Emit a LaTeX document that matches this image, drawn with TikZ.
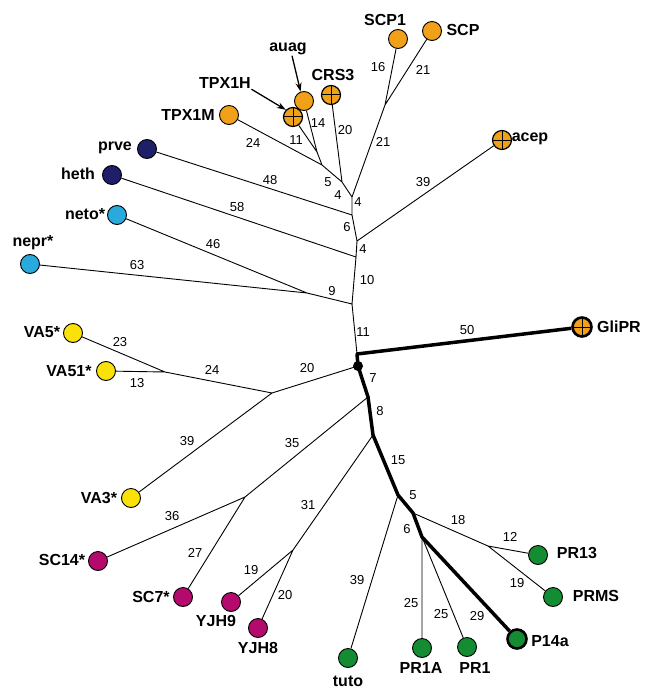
\documentclass[tikz,border=0pt]{standalone}
\usepackage{fontspec}
\setmainfont{Liberation Sans}
\usetikzlibrary{arrows.meta}

\definecolor{orng}{RGB}{240,160,25}
\definecolor{navy}{RGB}{30,30,105}
\definecolor{cyn}{RGB}{40,170,220}
\definecolor{yel}{RGB}{250,225,10}
\definecolor{mag}{RGB}{180,10,110}
\definecolor{grn}{RGB}{20,140,50}

\tikzset{
  leaf/.style={circle, draw, line width=0.9pt, minimum size=19pt, inner sep=0pt},
  xleaf/.style={leaf, fill=orng, line width=1.2pt,
    path picture={\draw[line width=1pt] (path picture bounding box.north) -- (path picture bounding box.south)
      (path picture bounding box.west) -- (path picture bounding box.east);}},
  tag/.style={font=\fontsize{16}{18}\selectfont\bfseries, inner sep=0.5pt},
  num/.style={font=\fontsize{13}{15}\selectfont, inner sep=0pt},
  br/.style={line width=0.9pt},
  trunk/.style={line width=3.5pt, line join=round},
}

\begin{document}
\begin{tikzpicture}[x=1pt, y=-1pt]
    \useasboundingbox (0,0) rectangle (645,690);

    % Leaves
    \foreach \n/\c/\x/\y in {scp1/orng/398/39, scp/orng/432/31, auag/orng/304/101, tpx1m/orng/229/115,
        prve/navy/147/149, heth/navy/112/175, neto/cyn/117/215, nepr/cyn/30/264,
        va5/yel/73/333, va51/yel/106/371, va3/yel/131/498,
        sc14/mag/98/561, sc7/mag/183/597, yjh9/mag/231/602, yjh8/mag/258/628,
        tuto/grn/348/658, pr1a/grn/422/648, pr1/grn/467/647, prms/grn/553/597, pr13/grn/538/555}
        \node[leaf, fill=\c] (\n) at (\x,\y) {};
    \foreach \n/\x/\y in {tpx1h/293/117, crs3/331/95, acep/502/140}
        \node[xleaf] (\n) at (\x,\y) {};
    \node[xleaf, line width=2.6pt] (glipr) at (582,327) {};
    \node[leaf, fill=grn, line width=2.6pt] (p14a) at (517,639) {};

    % Leaf names
    \foreach \n/\x/\y/\t in {scp1/385/20/SCP1, scp/463/30/SCP, auag/288/49/auag, tpx1h/225/83/TPX1H,
        crs3/333/75/CRS3, tpx1m/188/115/TPX1M, acep/530/139/acep, prve/115/148/prve,
        heth/78/174/heth, neto/85/214/neto*, nepr/33/243/nepr*, va5/42/332/VA5*,
        va51/69/371/VA51*, va3/99/498/VA3*, sc14/62/560/SC14*, sc7/151/597/SC7*,
        yjh9/216/621/YJH9, yjh8/258/648/YJH8, tuto/348/681/tuto, pr1a/421/668/PR1A,
        pr1/475/668/PR1, p14a/550/641/P14a, prms/596/596/PRMS, pr13/577/553/PR13, glipr/619/327/GliPR}
        \node[tag] (\n-t) at (\x,\y) {\t};

    % Inner nodes
    \foreach \n/\x/\y in {jA/317/152, jB/322/165, jC/342/182, jD/352/197, jS/385/105,
        jE/352/215, jF/357/241, jG/356/257, jH/352/304, jN/307/293, gj/357/354,
        jL/272/393, jV/165/372, jK/368/397, jSC/245/497, jM/373/435, jY/293/550,
        jT/398/495, jP/413/513, jR/488/546, jQ/422/537}
        \coordinate (\n) at (\x,\y);
    \coordinate (root) at (358,366);

    % Branches
    \draw[br] (tpx1h) -- (jA) (auag) -- (jA) (jA) -- (jB) (tpx1m) -- (jB) -- (jC) (crs3) -- (jC) -- (jD)
        (scp1) -- (jS) (scp) -- (jS) -- (jD) -- (jE) (prve) -- (jE) -- (jF) (acep) -- (jF) -- (jG)
        (heth) -- (jG) -- (jH) (nepr) -- (jN) (neto) -- (jN) -- (jH) -- (gj);
    \draw[br] (root) -- (jL) -- (jV) (va5) -- (jV) (va51) -- (jV) (jL) -- (va3)
        (jK) -- (jSC) -- (sc14) (jSC) -- (sc7) (jM) -- (jY) -- (yjh9) (jY) -- (yjh8)
        (jT) -- (tuto) (jP) -- (jR) -- (pr13) (jR) -- (prms) (jQ) -- (pr1a) (jQ) -- (pr1);
    \draw[trunk] (glipr) -- (gj) -- (root) -- (jK) -- (jM) -- (jT) -- (jP) -- (jQ) -- (p14a);
    \fill (root) circle (5pt);

    % Pointers
    \draw[line width=1.3pt, -{Stealth[length=9pt, width=6pt]}] ([xshift=4pt]auag-t.south) -- (auag.110);
    \draw[line width=1.3pt, -{Stealth[length=9pt, width=6pt]}] (tpx1h-t.south east) -- (tpx1h.135);

    % Branch lengths
    \foreach \t/\x/\y [count=\i] in {16/378/67, 21/423/70, 21/383/142, 14/318/123, 20/345/130, 11/296/140,
        24/253/143, 5/328/182, 4/338/195, 4/358/202, 48/270/180, 39/423/182, 6/347/227, 4/363/249,
        58/237/207, 10/367/280, 46/213/244, 63/137/265, 9/332/291, 11/363/332, 50/467/330,
        20/307/368, 24/212/370, 23/120/342, 13/137/383, 39/187/441, 7/373/378, 35/292/443,
        8/380/411, 36/172/516, 27/195/553, 31/308/505, 19/251/570, 20/285/595, 15/398/460,
        5/413/495, 39/357/580, 18/458/520, 6/407/529, 12/510/537, 19/517/583, 25/411/603,
        25/441/614, 29/477/616}
        \node[num] (w\i) at (\x,\y) {\t};
\end{tikzpicture}
\end{document}
